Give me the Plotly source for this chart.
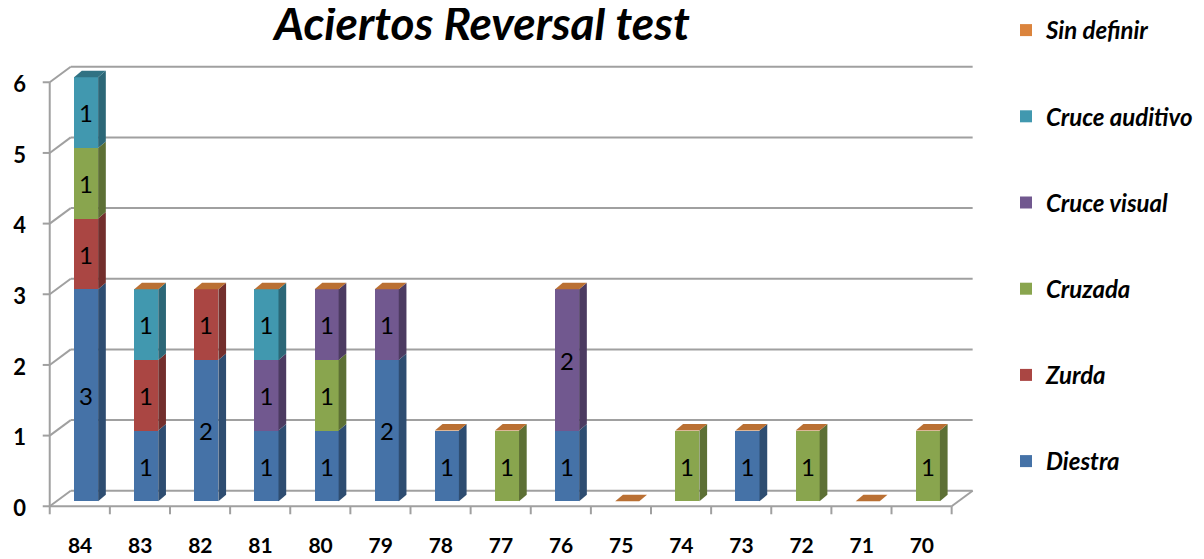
import plotly.graph_objects as go

categories = ["84", "83", "82", "81", "80", "79", "78", "77", "76", "75", "74", "73", "72", "71", "70"]
diestra        = [3, 1, 2, 1, 1, 2, 1, None, 1, None, None, 1, None, None, None]
zurda          = [1, 1, 1, None, None, None, None, None, None, None, None, None, None, None, None]
cruzada        = [1, None, None, None, 1, None, None, 1, None, None, 1, None, 1, None, 1]
cruce_visual   = [None, None, None, 1, 1, 1, None, None, 2, None, None, None, None, None, None]
cruce_auditivo = [1, 1, None, 1, None, None, None, None, None, None, None, None, None, None, None]
sin_definir    = [None, 0, 0, 0, 0, 0, 0, 0, 0, 0, 0, 0, 0, 0, 0]

series = [
    ("Diestra", diestra, "#4572A7"),
    ("Zurda", zurda, "#AA4643"),
    ("Cruzada", cruzada, "#89A54E"),
    ("Cruce visual", cruce_visual, "#71588F"),
    ("Cruce auditivo", cruce_auditivo, "#4198AF"),
]
sin_color = "#DB843D"

# ---- geometry (page has an 8px body margin) ----
OFF = 8
W, H = 1204 - OFF, 559 - OFF
UX = 60.14          # px per category
UY = 70.6           # px per unit
X_RANGE = [-0.75, 14.9]
Y_RANGE = [-0.35, 6.4]
BAR_PX0 = 86 - OFF  # figure pixel of x=0
BAR_PY0 = 501 - OFF # figure pixel of y=0
ml = BAR_PX0 + X_RANGE[0] * UX
pw = (X_RANGE[1] - X_RANGE[0]) * UX
mr = W - ml - pw
mt = BAR_PY0 - Y_RANGE[1] * UY
ph = (Y_RANGE[1] - Y_RANGE[0]) * UY
mb = H - mt - ph

BW = 0.4                     # bar width (category units)
DX, DY = 7.7 / UX, 6.5 / UY  # bar depth
FX, FY = -6.3 / UX, -5.0 / UY   # front plane offset
BX, BY = 14.7 / UX, 10.5 / UY   # back wall offset
GRID = "#A0A0A0"


def shade(hexc, f):
    hexc = hexc.lstrip("#")
    r, g, b = (int(hexc[i:i + 2], 16) for i in (0, 2, 4))
    return "#%02x%02x%02x" % (int(r * f), int(g * f), int(b * f))


xs = list(range(len(categories)))
fig = go.Figure()

nser = len(series) + 1
for k, (name, vals, col) in enumerate(series):
    fig.add_trace(go.Bar(
        x=xs, y=vals, name=name, legendgroup=name, legendrank=nser - k,
        marker=dict(color=col, line=dict(width=0)),
        width=BW,
        text=[("%d" % v) if v else "" for v in vals],
        textposition="inside", insidetextanchor="middle", textangle=0,
        constraintext="none",
        textfont=dict(family="Lato", size=24, color="black"),
        hoverinfo="skip",
    ))
fig.add_trace(go.Bar(
    x=xs, y=sin_definir, name="Sin definir", legendgroup="Sin definir", legendrank=0,
    marker=dict(color=sin_color, line=dict(width=0)), width=BW,
    hoverinfo="skip",
))

shapes = []


def line(x0, y0, x1, y1, layer="below"):
    shapes.append(dict(type="line", xref="x", yref="y", x0=x0, y0=y0, x1=x1, y1=y1,
                       line=dict(color=GRID, width=2), layer=layer))


n = len(categories)
# back wall gridlines and left diagonals, left front edge with ticks
for v in range(0, 7):
    line(-0.5 + BX, v + BY, n - 0.5 + BX, v + BY)
    line(-0.5 + FX, v + FY, -0.5 + BX, v + BY)
    line(-0.5 + FX - 7 / UX, v + FY, -0.5 + FX, v + FY)
line(-0.5 + FX, FY, -0.5 + FX, 6 + FY)
# floor front edge and category ticks, right diagonal
line(-0.5 + FX, FY, n - 0.5 + FX, FY)
line(n - 0.5 + FX, FY, n - 0.5 + BX, BY)
for i in range(n + 1):
    line(i - 0.5 + FX, FY, i - 0.5 + FX, FY - 8 / UY)


def poly(pts, color):
    path = "M " + " L ".join("%f,%f" % p for p in pts) + " Z"
    shapes.append(dict(type="path", xref="x", yref="y", path=path,
                       fillcolor=color, line=dict(width=0), layer="above"))


for i in range(n):
    base = 0
    top_col = None
    xl, xr = i - BW / 2, i + BW / 2
    for name, vals, col in series:
        v = vals[i]
        if v:
            y0, y1 = base, base + v
            poly([(xr, y0), (xr + DX, y0 + DY), (xr + DX, y1 + DY), (xr, y1)], shade(col, 0.68))
            base = y1
            top_col = col
    if sin_definir[i] == 0:
        cap = shade(sin_color, 0.85)
    else:
        cap = shade(top_col, 0.75)
    poly([(xl, base), (xl + DX, base + DY), (xr + DX, base + DY), (xr, base)], cap)

fig.update_layout(
    width=W, height=H, autosize=False,
    margin=dict(l=ml, r=mr, t=mt, b=mb, pad=0, autoexpand=False),
    barmode="stack", bargap=0,
    plot_bgcolor="white", paper_bgcolor="white",
    shapes=shapes,
    showlegend=True,
    uniformtext=dict(minsize=24, mode="show"),
    title=dict(text="Aciertos Reversal test", xref="container", yref="container",
               x=(482 - OFF) / W, y=1.0, xanchor="center", yanchor="top",
               pad=dict(t=0, b=0, l=0, r=0),
               font=dict(family="Lato", size=46, color="black", weight="bold", style="italic")),
    legend=dict(xref="container", yref="container", x=(1006 - OFF) / W, y=1 + 9 / H,
                xanchor="left", yanchor="top", traceorder="grouped",
                tracegroupgap=52, bgcolor="rgba(0,0,0,0)", maxheight=1.0,
                font=dict(family="Lato", size=24, color="black", weight="bold", style="italic")),
    xaxis=dict(range=X_RANGE, tickmode="array", tickvals=xs, ticktext=categories,
               showgrid=False, zeroline=False, showline=False, ticks="", automargin=False,
               ticklabelshift=-6, ticklabelstandoff=5,
               tickfont=dict(family="Lato", size=21, color="black", weight="bold")),
    yaxis=dict(range=Y_RANGE, tickmode="array", tickvals=[0, 1, 2, 3, 4, 5, 6],
               showgrid=False, zeroline=False, showline=False, ticks="", automargin=False,
               ticklabelshift=7, ticklabelstandoff=14,
               tickfont=dict(family="Lato", size=22, color="black", weight="bold")),
)

fig.write_html("out.html")
